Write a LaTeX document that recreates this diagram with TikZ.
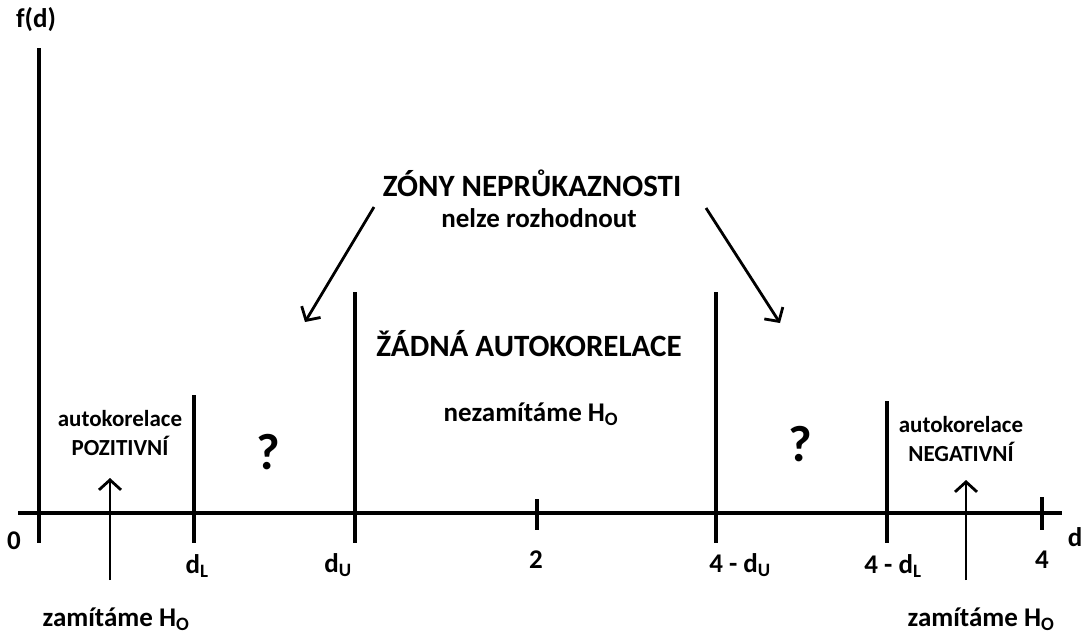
\documentclass[tikz,border=0pt]{standalone}
\usepackage{fontspec}
\setmainfont{Carlito}
\usetikzlibrary{arrows.meta}
\begin{document}
\begin{tikzpicture}[x=1pt,y=-1pt,
  axis/.style={line width=3.6pt},
  arr/.style={line width=2.8pt,-{Straight Barb[length=10pt,width=22pt,line width=2.8pt]}},
  lbl/.style={font=\bfseries\fontsize{23}{29}\selectfont,inner sep=0pt,align=center},
  big/.style={font=\bfseries\fontsize{31}{34}\selectfont,inner sep=0pt},
  mid/.style={font=\bfseries\fontsize{27}{30}\selectfont,inner sep=0pt},
  qm/.style={font=\bfseries\fontsize{51}{54}\selectfont,inner sep=0pt}]
\useasboundingbox (0,0) rectangle (1083,635);
% axes
\coordinate (ytop) at (39,48);
\coordinate (ybot) at (39,543);
\coordinate (xl) at (18,513);
\coordinate (xr) at (1062,513);
\draw[axis] (ytop) -- (ybot);
\draw[axis] (xl) -- (xr);
% vertical lines
\coordinate (dLt) at (194,395); \coordinate (dLb) at (194,543);
\coordinate (dUt) at (355,292); \coordinate (dUb) at (355,543);
\coordinate (t2t) at (537,499); \coordinate (t2b) at (537,530);
\coordinate (dU4t) at (716,292); \coordinate (dU4b) at (716,543);
\coordinate (dL4t) at (887,401); \coordinate (dL4b) at (887,543);
\coordinate (t4t) at (1042,497); \coordinate (t4b) at (1042,530);
\draw[axis] (dLt) -- (dLb);
\draw[axis] (dUt) -- (dUb);
\draw[axis] (t2t) -- (t2b);
\draw[axis] (dU4t) -- (dU4b);
\draw[axis] (dL4t) -- (dL4b);
\draw[axis] (t4t) -- (t4b);
% labels on axis
\node[mid] (fd) at (36,20) {f(d)};
\node[mid] (zero) at (14,541) {0};
\node[mid] (dlab) at (1075,537) {d};
\node[mid] (ldL) at (197,566) {d\textsubscript{L}};
\node[mid] (ldU) at (338,565) {d\textsubscript{U}};
\node[mid] (l2) at (536,560) {2};
\node[mid] (l4dU) at (740,565) {4 - d\textsubscript{U}};
\node[mid] (l4dL) at (893,566) {4 - d\textsubscript{L}};
\node[mid] (l4) at (1042,560) {4};
% headings
\node[big] (zony) at (532,183) {ZÓNY NEPRŮKAZNOSTI};
\node[mid] (nelze) at (539,218) {nelze rozhodnout};
\node[big] (zadna) at (529,344) {ŽÁDNÁ AUTOKORELACE};
\node[mid] (nezam) at (531,414) {nezamítáme H\textsubscript{O}};
\node[qm] (q1) at (268,452) {?};
\node[qm] (q2) at (800,444) {?};
\node[lbl] (poz) at (120,433) {autokorelace\\POZITIVNÍ};
\node[lbl] (neg) at (961,439) {autokorelace\\NEGATIVNÍ};
\node[mid] (zam1) at (116,619) {zamítáme H\textsubscript{O}};
\node[mid] (zam2) at (981,619) {zamítáme H\textsubscript{O}};
% arrows
\coordinate (a1s) at (110,580); \coordinate (a1e) at (110,478);
\coordinate (a2s) at (966,580); \coordinate (a2e) at (966,480);
\draw[arr] (a1s) -- (a1e);
\draw[arr] (a2s) -- (a2e);
\coordinate (d1s) at (374,207); \coordinate (d1e) at (305,322);
\coordinate (d2s) at (706,208); \coordinate (d2e) at (780,323);
\draw[arr] (d1s) -- (d1e);
\draw[arr] (d2s) -- (d2e);
\end{tikzpicture}
\end{document}
